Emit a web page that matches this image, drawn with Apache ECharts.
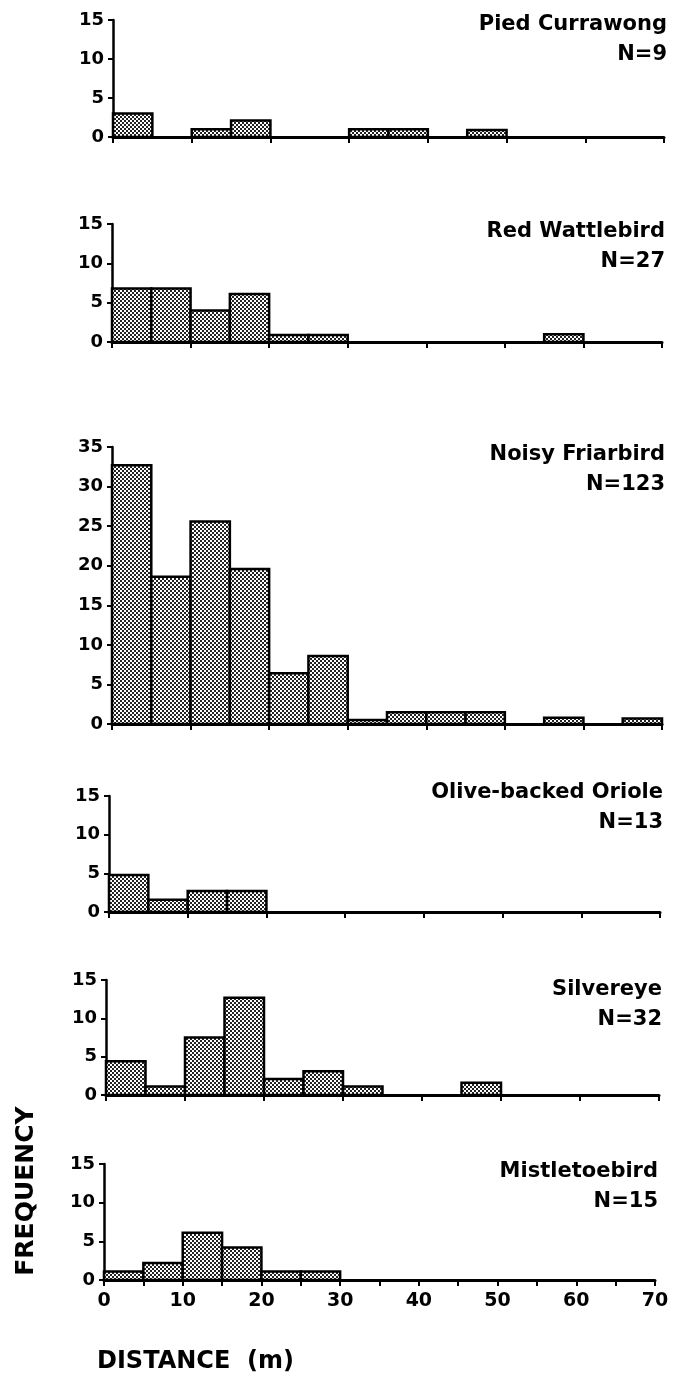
<!DOCTYPE html>
<html>
<head>
<meta charset="utf-8">
<script src="https://cdn.jsdelivr.net/npm/echarts@6/dist/echarts.min.js"></script>
<style>
html,body{margin:0;padding:0;background:#fff;}
#chart{width:673px;height:1381px;}
</style>
</head>
<body>
<div id="chart"></div>
<script>
// ---- data ----
const binStarts = [0,5,10,15,20,25,30,35,40,45,50,55,60,65];
const binWidth = 5;
const species = ['Pied Currawong','Red Wattlebird','Noisy Friarbird','Olive-backed Oriole','Silvereye','Mistletoebird'];
const sampleN = [9,27,123,13,32,15];
const piedCurrawong     = [3,0,1,2.1,0,0,1,1,0,0.9,0,0,0,0];
const redWattlebird     = [6.8,6.8,4,6.1,0.9,0.9,0,0,0,0,0,1,0,0];
const noisyFriarbird    = [32.7,18.6,25.6,19.6,6.4,8.6,0.5,1.5,1.5,1.5,0,0.8,0,0.7];
const oliveBackedOriole = [4.8,1.6,2.7,2.7,0,0,0,0,0,0,0,0,0,0];
const silvereye         = [4.4,1.1,7.5,12.7,2.1,3.1,1.1,0,0,1.6,0,0,0,0];
const mistletoebird     = [1.1,2.2,6.1,4.2,1.1,1.1,0,0,0,0,0,0,0,0];
const seriesValues = [piedCurrawong, redWattlebird, noisyFriarbird, oliveBackedOriole, silvereye, mistletoebird];
const yMax = [15,15,35,15,15,15];
const yTickStep = 5;
const xTickLabels = ['0','10','20','30','40','50','60','70'];
const xAxisTitle = 'DISTANCE  (m)';
const yAxisTitle = 'FREQUENCY';

// ---- layout (pixels) ----
const layout = [
  {x0:113, x70:664, yTop:20,  y0:137,  t1:25},
  {x0:112, x70:662, yTop:224, y0:342,  t1:232},
  {x0:112, x70:662, yTop:447, y0:724,  t1:455},
  {x0:109, x70:660, yTop:796, y0:912,  t1:793},
  {x0:106, x70:659, yTop:980, y0:1095, t1:990},
  {x0:104, x70:655, yTop:1164,y0:1280, t1:1172}
];
const FONT = '"DejaVu Sans", "Liberation Sans", Arial, sans-serif';

// dotted fill pattern
const pat = document.createElement('canvas');
pat.width = 4; pat.height = 4;
const pc = pat.getContext('2d');
pc.fillStyle = '#fff'; pc.fillRect(0,0,4,4);
pc.fillStyle = '#222';
pc.fillRect(0,0,2,2); pc.fillRect(2,2,2,2);
const patternFill = {image: pat, repeat: 'repeat'};

const chart = echarts.init(document.getElementById('chart'), null, {renderer:'canvas'});

const grids = [], xAxes = [], yAxes = [], series = [], texts = [];
layout.forEach((L, i) => {
  const isLast = i === layout.length - 1;
  grids.push({left: L.x0, right: 673 - L.x70, top: L.yTop, height: L.y0 - L.yTop, containLabel: false});
  xAxes.push({
    type: 'value', gridIndex: i, min: 0, max: 70, interval: isLast ? 5 : 10,
    axisLine: {show: true, onZero: false, lineStyle: {color: '#000', width: 3}},
    axisTick: {show: true, length: 6, lineStyle: {color: '#000', width: 2}},
    axisLabel: {show: isLast, margin: 12, color: '#000', fontFamily: FONT, fontWeight: 'bold', fontSize: 19,
      formatter: v => (v % 10 === 0 ? xTickLabels[v / 10] : '')},
    splitLine: {show: false}
  });
  yAxes.push({
    type: 'value', gridIndex: i, min: 0, max: yMax[i], interval: yTickStep,
    axisLine: {show: true, lineStyle: {color: '#000', width: 2.5}},
    axisTick: {show: true, length: 5, lineStyle: {color: '#000', width: 2}},
    axisLabel: {color: '#000', margin: 9, fontFamily: FONT, fontWeight: 'bold', fontSize: 18},
    splitLine: {show: false}
  });
  series.push({
    type: 'custom', xAxisIndex: i, yAxisIndex: i,
    data: binStarts.map((b, k) => [b, seriesValues[i][k]]),
    renderItem: function (params, api) {
      const x0 = api.value(0), v = api.value(1);
      if (!(v > 0)) return null;
      const p0 = api.coord([x0, 0]);
      const p1 = api.coord([x0 + binWidth, v]);
      return {
        type: 'rect',
        shape: {x: p0[0], y: p1[1], width: p1[0] - p0[0], height: p0[1] - p1[1]},
        style: {fill: patternFill, stroke: '#000', lineWidth: 2.5}
      };
    },
    z: 1
  });
  texts.push({type: 'text', x: L.x70 + 3, y: L.t1,
    style: {text: species[i], fill: '#000', font: 'bold 21px ' + FONT, textAlign: 'right', textVerticalAlign: 'middle'}});
  texts.push({type: 'text', x: L.x70 + 3, y: L.t1 + 30,
    style: {text: 'N=' + sampleN[i], fill: '#000', font: 'bold 21px ' + FONT, textAlign: 'right', textVerticalAlign: 'middle'}});
});

texts.push({type: 'text', x: 26, y: 1191, rotation: Math.PI / 2,
  style: {text: yAxisTitle, fill: '#000', font: 'bold 25px ' + FONT, textAlign: 'center', textVerticalAlign: 'middle'}});
texts.push({type: 'text', x: 97, y: 1362,
  style: {text: xAxisTitle, fill: '#000', font: 'bold 24px ' + FONT, textAlign: 'left', textVerticalAlign: 'middle'}});

chart.setOption({
  animation: false,
  backgroundColor: '#fff',
  grid: grids,
  xAxis: xAxes,
  yAxis: yAxes,
  series: series,
  graphic: texts
});
</script>
</body>
</html>
